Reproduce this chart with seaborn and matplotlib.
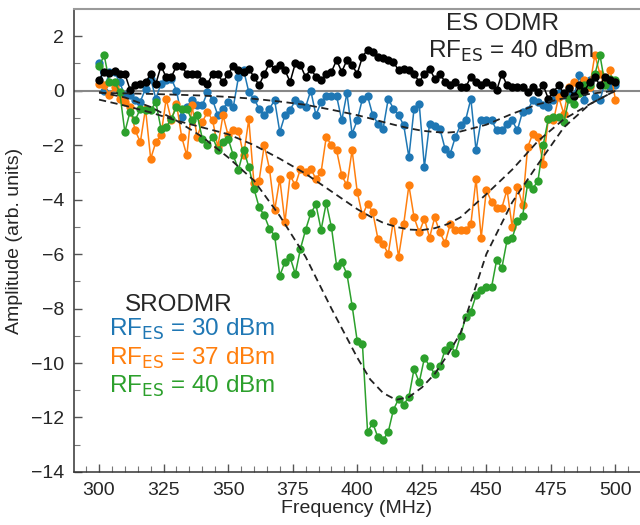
import numpy as np
import pandas as pd
import matplotlib
matplotlib.use("Agg")
import matplotlib.pyplot as plt
import seaborn as sns

# Frequency grid of the measurements (MHz)
freq = np.arange(300, 501, 2)

# ES ODMR, RF_ES = 40 dBm (black)
es_odmr = [0.40, 0.70, 0.65, 0.72, 0.62, 0.62, 0.04, 0.20, 0.25, 0.30,
           0.60, 0.25, 0.90, 0.50, 0.50, 0.90, 0.90, 0.62, 0.62, 0.62,
           0.37, 0.25, 0.62, 0.62, 0.30, 0.62, 0.90, 0.75, 0.70, 0.81,
           0.50, 0.20, 0.62, 1.00, 0.81, 0.93, 0.75, 0.32, 1.00, 0.93,
           0.50, 0.81, 0.50, 0.38, 0.62, 0.69, 1.12, 0.69, 1.12, 0.93,
           0.62, 1.24, 1.51, 1.42, 1.24, 1.18, 1.12, 1.05, 0.75, 0.81,
           0.75, 0.62, 0.32, 0.62, 0.81, 0.44, 0.62, 0.32, 0.20, 0.32,
           0.13, 0.13, 0.50, 0.32, 0.20, 0.32, 0.20, 0.01, 0.62, 0.20,
           0.13, 0.13, 0.13, -0.05, 0.13, -0.05, 0.20, -0.30, -0.05, 0.20,
           -0.10, 0.10, -0.20, 0.20, 0.00, 0.30, 0.50, 0.20, 0.50, 0.40,
           0.30]

# SRODMR, RF_ES = 30 dBm (blue)
sr_30 = [1.02, 0.00, 0.69, 0.69, 0.30, -0.17, -0.17, -0.35, -0.40, 0.07,
         0.44, -0.30, 0.26, 0.38, 0.44, 0.00, -0.97, -0.60, -0.35, -0.54,
         -0.54, -0.05, -0.35, -0.90, -0.66, -0.42, -0.60, 0.50, 0.75, -0.05,
         -0.30, -0.66, -0.90, -0.66, -0.35, -1.52, -0.90, -0.72, -0.35, -0.48,
         -0.60, 0.00, -0.90, -0.42, -0.20, -0.20, -0.20, -1.09, -0.09, -1.58,
         -1.09, -0.30, -0.20, -0.90, -1.21, -1.40, -0.30, -0.66, -0.90, -1.27,
         -2.44, -0.66, -0.48, -2.80, -1.21, -1.30, -1.40, -2.13, -2.32, -1.70,
         -1.27, -1.07, -0.30, -2.19, -1.07, -1.07, -1.07, -1.46, -1.46, -1.21,
         -1.09, -1.46, -0.78, -0.72, -0.35, -0.42, -0.54, -0.60, -0.35, -0.09,
         -0.17, -0.17, -0.17, 0.56, -0.35, 0.38, -0.23, -0.35, 0.32, 0.13,
         0.20]

# SRODMR, RF_ES = 37 dBm (orange)
sr_37 = [0.26, 0.20, -0.17, 0.13, -0.30, -0.42, -0.60, -1.46, -1.89, -0.66,
         -2.50, -1.89, -1.64, -0.30, -1.09, -0.48, -1.70, -2.38, -0.54, -1.70,
         -1.15, -0.78, -1.09, -2.07, -0.90, -1.64, -1.46, -1.50, -2.38, -1.05,
         -3.40, -3.30, -2.00, -2.87, -4.40, -3.24, -4.83, -3.11, -3.48, -2.87,
         -2.99, -2.87, -3.24, -2.99, -1.70, -2.00, -2.19, -3.11, -3.48, -2.19,
         -3.72, -4.58, -4.15, -4.46, -5.44, -5.62, -6.00, -4.77, -6.10, -4.89,
         -3.48, -4.65, -5.20, -4.70, -5.40, -4.65, -5.20, -5.60, -4.90, -5.10,
         -5.10, -5.10, -4.90, -3.24, -5.40, -3.64, -4.09, -4.30, -4.30, -3.64,
         -5.00, -3.52, -4.20, -2.07, -1.58, -1.70, -2.68, -1.03, -1.09, -0.23,
         -0.85, 0.13, 0.32, -0.10, 0.38, 0.13, 1.30, 0.62, 0.38, 0.75,
         -0.35]

# SRODMR, RF_ES = 40 dBm (green)
sr_40 = [0.89, 1.30, 0.32, 0.32, -0.05, -1.52, -0.78, -1.09, -0.66, -0.72,
         -0.72, -0.42, -1.40, -1.34, -1.03, -0.60, -0.66, -0.66, -1.09, -0.90,
         -1.76, -2.00, -1.70, -2.19, -1.89, -1.76, -2.38, -2.90, -2.19, -2.80,
         -3.60, -4.28, -4.58, -5.07, -5.32, -6.79, -6.30, -6.12, -6.73, -5.81,
         -5.11, -4.50, -4.18, -5.11, -4.12, -5.01, -6.42, -6.30, -6.73, -7.89,
         -9.20, -9.30, -12.53, -12.20, -12.73, -12.83, -12.53, -11.72, -11.32, -11.53,
         -11.24, -10.22, -10.71, -9.82, -10.10, -10.41, -10.12, -9.52, -9.33, -9.63,
         -8.99, -8.32, -8.11, -7.52, -7.32, -7.22, -7.22, -6.21, -6.51, -5.50,
         -5.42, -4.80, -4.62, -3.42, -3.60, -3.30, -2.00, -1.03, -0.97, -0.97,
         -1.15, -0.30, -0.48, -0.10, 0.20, 0.20, 0.60, 1.30, 0.20, 0.44,
         0.38]

# Fitted curves (dashed)
fit_freq = [300, 310, 320, 330, 340, 350, 360, 370, 380, 390, 400, 405, 410,
            415, 420, 425, 430, 435, 440, 450, 460, 470, 480, 490, 500]
fit_30 = [-0.08, -0.10, -0.12, -0.15, -0.18, -0.23, -0.30, -0.40, -0.52, -0.70,
          -0.90, -1.02, -1.15, -1.27, -1.38, -1.47, -1.52, -1.54, -1.50, -1.25,
          -0.85, -0.50, -0.28, -0.12, 0.00]
fit_37 = [-0.33, -0.55, -0.80, -1.10, -1.35, -1.60, -2.00, -2.50, -3.05, -3.70,
          -4.35, -4.62, -4.85, -5.00, -5.10, -5.12, -5.05, -4.90, -4.65, -3.80,
          -2.90, -1.85, -1.05, -0.50, 0.00]
fit_40 = [-0.05, -0.25, -0.60, -1.10, -1.70, -2.45, -3.30, -4.60, -6.10, -8.00,
          -9.80, -10.60, -11.10, -11.35, -11.25, -10.90, -10.40, -9.70, -8.90, -6.00,
          -4.10, -2.70, -1.35, -0.50, 0.00]

series = [
    (sr_30, "#1f77b4"),
    (sr_37, "#ff7f0e"),
    (sr_40, "#2ca02c"),
    (es_odmr, "black"),
]
legend_powers = ["30", "37", "40"]
legend_colors = ["#1f77b4", "#ff7f0e", "#2ca02c"]

sns.set_style("ticks")
plt.rcParams["font.family"] = ["Liberation Sans", "DejaVu Sans"]

fig = plt.figure(figsize=(6.4, 5.25), dpi=100)
ax = fig.add_axes([0.1156, 0.101, 0.8844, 0.882])

ax.axhline(0, color="#888888", lw=1.5, zorder=1)

for vals, col in series:
    sns.lineplot(x=freq, y=vals, ax=ax, color=col, lw=1.1, marker="o",
                 markersize=6, markeredgewidth=0, zorder=3)

for fit in (fit_30, fit_37, fit_40):
    sns.lineplot(x=fit_freq, y=fit, ax=ax, color="#222222", lw=1.3,
                 linestyle=(0, (4, 2.5)), zorder=4)

ax.set_xlim(290.3, 509.5)
ax.set_ylim(-14, 3.0)
ax.set_xticks(range(300, 501, 25))
ax.set_xticks(range(295, 510, 5), minor=True)
ax.set_yticks(range(-14, 3, 2))
ax.set_yticks(range(-14, 3, 1), minor=True)
ax.tick_params(direction="in", labelsize=14, length=6, width=1,
               color="#555555", pad=7)
ax.tick_params(which="minor", direction="in", length=4, width=0.8,
               color="#777777")
ax.set_yticklabels([f"\u2212{abs(t)}" if t < 0 else str(t) for t in range(-14, 3, 2)])
ax.set_xlabel("Frequency (MHz)", fontsize=14, labelpad=1)
ax.set_ylabel("Amplitude (arb. units)", fontsize=14, labelpad=6)

sns.despine(ax=ax, right=True, top=False)
for side in ("left", "bottom"):
    ax.spines[side].set_color("#333333")
    ax.spines[side].set_linewidth(1.1)
ax.spines["top"].set_color("#9a9a9a")
ax.spines["top"].set_linewidth(1.5)

ax.text(456.2, 2.22, "ES ODMR", ha="center", va="baseline", fontsize=17.5)
ax.text(459.7, 1.22, r"RF$_{\mathrm{ES}}$ = 40 dBm", ha="center",
        va="baseline", fontsize=17.5)

ax.text(331, -8.08, "SRODMR", ha="center", va="baseline", fontsize=17.5)
for i, (p, col) in enumerate(zip(legend_powers, legend_colors)):
    ax.text(304, -9.0 - i * 1.05, r"RF$_{\mathrm{ES}}$ = " + p + " dBm",
            ha="left", va="baseline", fontsize=17.5, color=col)

fig.savefig("out.png", dpi=100)
